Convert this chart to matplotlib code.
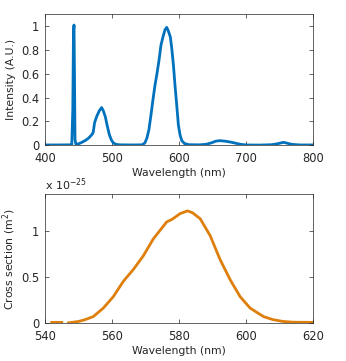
import numpy as np
import matplotlib
matplotlib.use("Agg")
import matplotlib.pyplot as plt
from matplotlib.ticker import FuncFormatter

# Emission spectrum (top)
wl_top = [400, 420, 438, 440, 441.5, 442.5, 443.3, 444, 444.8, 446, 450, 455, 460, 465,
          470, 472, 474, 477, 481, 484.5, 487, 490, 493, 496, 499, 502, 506, 512, 530,
          545, 549, 552, 555, 558, 561, 564, 567, 570, 573, 576, 579, 581.6, 584, 587,
          589, 591.5, 594, 596.5, 599, 601.5, 604, 608, 615, 630, 640, 648, 655, 661,
          668, 676, 684, 692, 700, 720, 738, 746, 752, 756, 761, 768, 780, 800]
intensity = [0.003, 0.003, 0.004, 0.01, 0.3, 0.95, 1.01, 0.6, 0.05, 0.01, 0.012, 0.025,
             0.04, 0.06, 0.09, 0.11, 0.19, 0.24, 0.29, 0.317, 0.29, 0.24, 0.16, 0.09,
             0.045, 0.02, 0.008, 0.004, 0.003, 0.004, 0.02, 0.06, 0.13, 0.25, 0.38, 0.5,
             0.6, 0.71, 0.84, 0.91, 0.97, 0.99, 0.96, 0.91, 0.82, 0.68, 0.5, 0.34, 0.17,
             0.087, 0.04, 0.015, 0.005, 0.004, 0.008, 0.02, 0.035, 0.039, 0.035, 0.028,
             0.018, 0.008, 0.003, 0.002, 0.005, 0.012, 0.02, 0.025, 0.018, 0.008, 0.003,
             0.003]

# Cross section (bottom), in units of 1e-25 m^2
wl_bot = [542, 545, 546, 547, 550, 552, 554.4, 557.4, 560.4, 563.4, 566.4, 569.3, 572.3,
          576.3, 578, 580.3, 582.5, 584, 586.3, 589.3, 592.2, 595.2, 598.2, 601.2, 605.2,
          608, 611, 614, 620]
cross = [0.01, 0.01, np.nan, 0.005, 0.02, 0.04, 0.073, 0.165, 0.29, 0.457, 0.586, 0.73,
         0.915, 1.10, 1.13, 1.19, 1.22, 1.2, 1.135, 0.95, 0.695, 0.476, 0.29, 0.165,
         0.073, 0.04, 0.02, 0.012, 0.01]

top_xticks = [400, 500, 600, 700, 800]
top_yticks = [0, 0.2, 0.4, 0.6, 0.8, 1]
bot_xticks = [540, 560, 580, 600, 620]
bot_yticks = [0, 0.5, 1]

txt = '#262626'
plt.rcParams['font.family'] = ['DejaVu Sans']

fig = plt.figure(figsize=(3.46, 3.61), dpi=100)
ax1 = fig.add_axes([0.130, 0.5975, 0.775, 0.3629])
ax2 = fig.add_axes([0.130, 0.1044, 0.775, 0.3574])

fmt = FuncFormatter(lambda v, p: '%g' % v)
lab_fs = 7.8

ax1.plot(wl_top, intensity, color='#0072BD', lw=2.0)
ax1.set_xlim(400, 800)
ax1.set_ylim(0, 1.1)
ax1.set_xticks(top_xticks)
ax1.set_yticks(top_yticks)
ax1.set_xlabel('Wavelength (nm)', color=txt, labelpad=2, fontsize=lab_fs)
ax1.set_ylabel('Intensity (A.U.)', color=txt, labelpad=4, fontsize=lab_fs)

ax2.plot(wl_bot, cross, color='#DE7F0C', lw=2.0)
ax2.set_xlim(540, 620)
ax2.set_ylim(0, 1.4)
ax2.set_xticks(bot_xticks)
ax2.set_yticks(bot_yticks)
ax2.set_xlabel('Wavelength (nm)', color=txt, labelpad=2, fontsize=lab_fs)
ax2.set_ylabel(r'Cross section (m$^{2}$)', color=txt, labelpad=2, fontsize=lab_fs)
ax2.text(0.0, 1.01, r'x 10$^{-25}$', transform=ax2.transAxes, color=txt,
         ha='left', va='bottom', fontsize=8)

for ax in (ax1, ax2):
    ax.yaxis.set_major_formatter(fmt)
    ax.xaxis.set_major_formatter(fmt)
    ax.tick_params(direction='in', top=True, right=True, length=3, width=0.5,
                   colors=txt, labelsize=8.3)
    ax.tick_params(axis='x', pad=5)
    ax.tick_params(axis='y', pad=4)
    for s in ax.spines.values():
        s.set_color('#262626')
        s.set_linewidth(0.5)

fig.savefig('out.png', dpi=100)
